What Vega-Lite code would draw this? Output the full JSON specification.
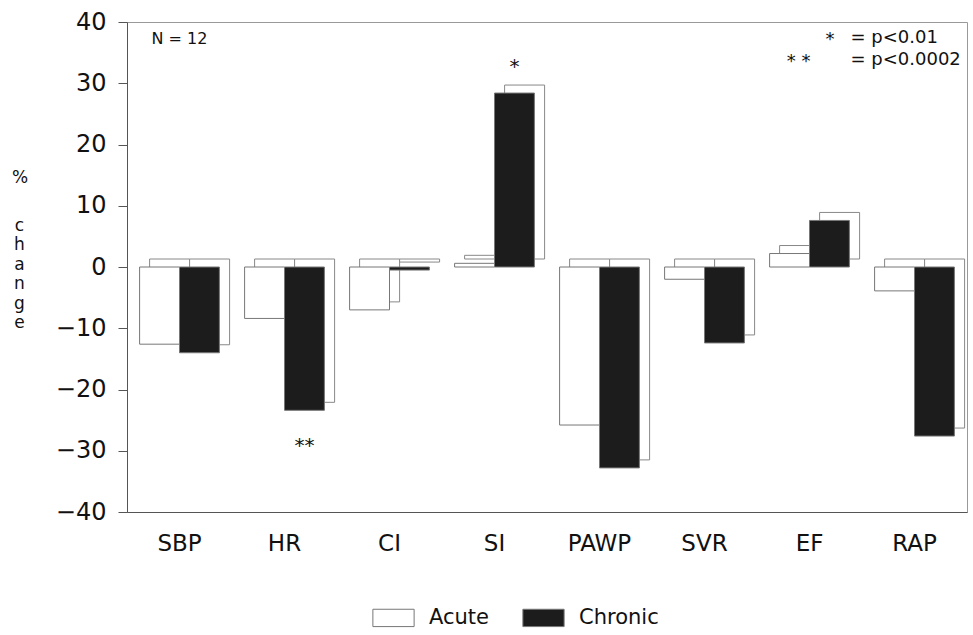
{
  "$schema": "https://vega.github.io/schema/vega-lite/v6.json",
  "width": 840,
  "height": 490,
  "autosize": "none",
  "padding": {"left": 127, "top": 22, "right": 6, "bottom": 123},
  "background": "white",
  "title": {
    "text": "%",
    "anchor": "start",
    "frame": "group",
    "orient": "top",
    "baseline": "middle",
    "fontSize": 17,
    "fontWeight": "normal",
    "color": "#111",
    "dx": -115,
    "dy": 189
  },
  "config": {
    "font": "DejaVu Sans",
    "view": {"stroke": "#999", "strokeWidth": 1}
  },
  "datasets": {
    "bars": [
      {"cat": "SBP", "grp": "Acute", "v": -12.6},
      {"cat": "SBP", "grp": "Chronic", "v": -14},
      {"cat": "HR", "grp": "Acute", "v": -8.4},
      {"cat": "HR", "grp": "Chronic", "v": -23.4},
      {"cat": "CI", "grp": "Acute", "v": -7},
      {"cat": "CI", "grp": "Chronic", "v": -0.5},
      {"cat": "SI", "grp": "Acute", "v": 0.6},
      {"cat": "SI", "grp": "Chronic", "v": 28.4},
      {"cat": "PAWP", "grp": "Acute", "v": -25.8},
      {"cat": "PAWP", "grp": "Chronic", "v": -32.8},
      {"cat": "SVR", "grp": "Acute", "v": -2},
      {"cat": "SVR", "grp": "Chronic", "v": -12.4},
      {"cat": "EF", "grp": "Acute", "v": 2.2},
      {"cat": "EF", "grp": "Chronic", "v": 7.6},
      {"cat": "RAP", "grp": "Acute", "v": -3.9},
      {"cat": "RAP", "grp": "Chronic", "v": -27.6}
    ],
    "stars": [
      {"cat": "SI", "grp": "Chronic", "v": 32.6, "label": "*"},
      {"cat": "HR", "grp": "Chronic", "v": -29.2, "label": "**"}
    ],
    "notesL": [
      {"cat": "SBP", "v": 37.2, "label": "N = 12"}
    ],
    "sigText": [
      {"cat": "RAP", "v": 37.4, "label": "= p<0.01"},
      {"cat": "RAP", "v": 33.8, "label": "= p<0.0002"}
    ],
    "sigStar1": [
      {"cat": "RAP", "v": 37.0, "label": "*"}
    ],
    "sigStar2": [
      {"cat": "RAP", "v": 33.4, "label": "*  *"}
    ]
  },
  "encoding": {
    "x": {
      "field": "cat",
      "type": "nominal",
      "sort": ["SBP", "HR", "CI", "SI", "PAWP", "SVR", "EF", "RAP"],
      "scale": {"paddingInner": 0.24, "paddingOuter": 0.12},
      "axis": {
        "title": null,
        "labelAngle": 0,
        "labelFontSize": 23,
        "labelColor": "#111",
        "labelPadding": 20,
        "ticks": false,
        "domainColor": "#555",
        "domainWidth": 1.2
      }
    },
    "y": {
      "field": "v",
      "type": "quantitative",
      "scale": {"domain": [-40, 40], "nice": false},
      "axis": {
        "values": [-40, -30, -20, -10, 0, 10, 20, 30, 40],
        "grid": false,
        "labelFontSize": 24,
        "labelColor": "#111",
        "labelPadding": 12,
        "tickSize": 9,
        "tickColor": "#555",
        "domainColor": "#555",
        "title": ["c", "h", "a", "n", "g", "e"],
        "titleAngle": 0,
        "titleFontSize": 17,
        "titleFontWeight": "normal",
        "titleColor": "#111",
        "titleLineHeight": 19.5,
        "titleAlign": "center",
        "titleBaseline": "top",
        "titleX": -108,
        "titleY": 195
      }
    }
  },
  "resolve": {"scale": {"xOffset": "independent"}},
  "layer": [
    {
      "data": {"name": "bars"},
      "mark": {"type": "bar", "fill": "white", "stroke": "#888", "strokeWidth": 1, "yOffset": -8, "y2Offset": -8},
      "encoding": {
        "xOffset": {"field": "grp", "sort": ["Acute", "Chronic"], "scale": {"range": [10, 90]}},
        "y2": {"datum": 0}
      }
    },
    {
      "data": {"name": "bars"},
      "mark": {"type": "bar", "stroke": "#777", "strokeWidth": 1},
      "encoding": {
        "xOffset": {"field": "grp", "sort": ["Acute", "Chronic"]},
        "y2": {"datum": 0},
        "fill": {
          "field": "grp",
          "type": "nominal",
          "scale": {"domain": ["Acute", "Chronic"], "range": ["#ffffff", "#1c1c1c"]},
          "legend": {
            "title": null,
            "orient": "none",
            "direction": "horizontal",
            "legendX": 245,
            "legendY": 574,
            "symbolType": "M-1,-0.42H1V0.42H-1Z",
            "symbolSize": 1700,
            "symbolStrokeColor": "#777",
            "symbolStrokeWidth": 1,
            "labelFontSize": 21,
            "labelColor": "#111",
            "labelOffset": 14,
            "columnPadding": 30,
            "symbolOpacity": 1
          }
        }
      }
    },
    {
      "data": {"name": "stars"},
      "mark": {"type": "text", "fontSize": 20, "baseline": "middle", "color": "#111"},
      "encoding": {
        "xOffset": {"field": "grp", "sort": ["Acute", "Chronic"], "scale": {"domain": ["Acute", "Chronic"]}},
        "text": {"field": "label"}
      }
    },
    {
      "data": {"name": "notesL"},
      "mark": {"type": "text", "fontSize": 16, "align": "left", "baseline": "middle", "dx": -28, "color": "#111"},
      "encoding": {"text": {"field": "label"}}
    },
    {
      "data": {"name": "sigText"},
      "mark": {"type": "text", "fontSize": 18, "align": "left", "baseline": "middle", "dx": -64, "color": "#111"},
      "encoding": {"text": {"field": "label"}}
    },
    {
      "data": {"name": "sigStar1"},
      "mark": {"type": "text", "fontSize": 18, "align": "right", "baseline": "middle", "dx": -80, "color": "#111"},
      "encoding": {"text": {"field": "label"}}
    },
    {
      "data": {"name": "sigStar2"},
      "mark": {"type": "text", "fontSize": 18, "align": "right", "baseline": "middle", "dx": -104, "color": "#111"},
      "encoding": {"text": {"field": "label"}}
    }
  ]
}
